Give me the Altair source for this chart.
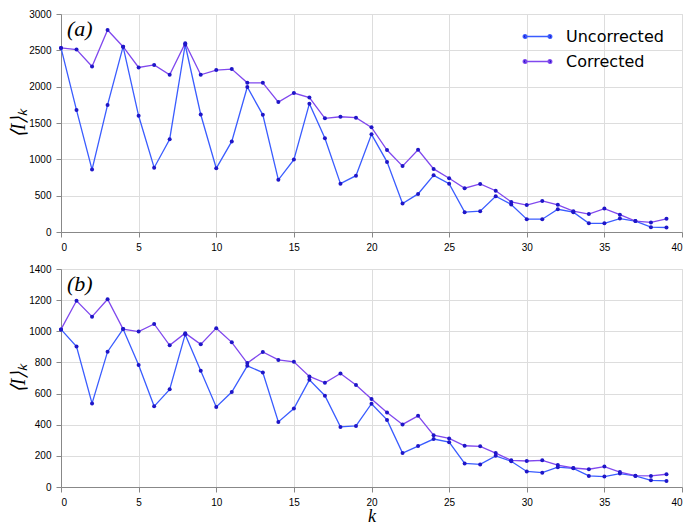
import altair as alt
import pandas as pd

k = list(range(40))
series_names = ["Uncorrected", "Corrected"]

a_uncorrected = [2533, 1678, 859, 1749, 2550, 1599, 885, 1277, 2577, 1617,
                 877, 1247, 1995, 1612, 718, 996, 1766, 1291, 665, 775,
                 1344, 965, 392, 524, 780, 665, 273, 286, 493, 379,
                 176, 176, 313, 273, 119, 119, 185, 150, 66, 62]
a_corrected = [2533, 2511, 2277, 2780, 2550, 2264, 2299, 2163, 2599, 2163,
               2229, 2242, 2053, 2053, 1788, 1912, 1850, 1564, 1586, 1573,
               1440, 1128, 907, 1132, 868, 740, 603, 661, 568, 414,
               370, 427, 374, 286, 247, 322, 238, 150, 132, 181]

b_uncorrected = [1012, 902, 537, 869, 1014, 784, 518, 627, 980, 747,
                 514, 610, 778, 735, 418, 504, 688, 586, 386, 392,
                 535, 431, 218, 263, 308, 288, 151, 145, 200, 165,
                 100, 92, 127, 120, 71, 67, 86, 71, 43, 39]
b_corrected = [1012, 1196, 1094, 1206, 1014, 998, 1047, 910, 988, 916,
               1020, 929, 796, 867, 816, 804, 710, 669, 729, 655,
               565, 478, 402, 457, 333, 312, 265, 261, 218, 171,
               167, 171, 141, 122, 114, 131, 96, 73, 71, 82]

x_ticks = [0, 5, 10, 15, 20, 25, 30, 35, 40]
a_y_ticks = [0, 500, 1000, 1500, 2000, 2500, 3000]
b_y_ticks = [0, 200, 400, 600, 800, 1000, 1200, 1400]

LINE_COLORS = ["#3a5cff", "#8048ee"]
MARKER_COLOR = "#1f16c8"
AXIS_COLOR = "#333333"

legend_path = ("M-1,0L1,0"
               "M-1.15,0a0.15,0.15 0 1,0 0.3,0a0.15,0.15 0 1,0 -0.3,0"
               "M0.85,0a0.15,0.15 0 1,0 0.3,0a0.15,0.15 0 1,0 -0.3,0")

W = 621
H = 218


def panel(unc, cor, y_ticks, label, show_xtitle):
    df = pd.DataFrame({
        "k": k + k,
        "value": unc + cor,
        "series": [series_names[0]] * len(k) + [series_names[1]] * len(k),
    })
    x = alt.X("k:Q", scale=alt.Scale(domain=[0, 40], nice=False),
              axis=alt.Axis(values=x_ticks, format="d", labelPadding=5,
                            title="k" if show_xtitle else None,
                            titleFont="Liberation Serif", titleFontStyle="italic",
                            titleFontWeight="normal", titleFontSize=18,
                            titlePadding=0))
    y = alt.Y("value:Q", scale=alt.Scale(domain=[y_ticks[0], y_ticks[-1]], nice=False),
              axis=alt.Axis(values=y_ticks, format="d", title="⟨I⟩ₖ",
                            labelPadding=5,
                            titleFont="Liberation Serif", titleFontStyle="italic",
                            titleFontWeight="normal", titleFontSize=20,
                            titlePadding=0))
    base = alt.Chart(df)
    line = base.mark_line(strokeWidth=1.3).encode(
        x=x, y=y,
        color=alt.Color("series:N",
                        scale=alt.Scale(domain=series_names, range=LINE_COLORS),
                        legend=alt.Legend(title=None, orient="none",
                                          legendX=463, legendY=9,
                                          symbolType=legend_path, symbolSize=620,
                                          symbolStrokeWidth=1.3,
                                          symbolFillColor=MARKER_COLOR,
                                          labelFont="DejaVu Sans", labelFontSize=16,
                                          labelOffset=15, rowPadding=3,
                                          labelColor="black")),
        detail="series:N",
    )
    pts = base.mark_circle(size=16, color=MARKER_COLOR, opacity=1).encode(
        x=x, y=y, detail="series:N")
    txt = alt.Chart(pd.DataFrame({"t": [label]})).mark_text(
        font="Liberation Serif", fontStyle="italic", fontSize=22, align="left",
        baseline="middle", color="black").encode(
        text="t:N", x=alt.value(6), y=alt.value(15))
    return alt.layer(line, pts, txt).properties(width=W, height=H)


top = panel(a_uncorrected, a_corrected, a_y_ticks, "(a)", False)
bottom = panel(b_uncorrected, b_corrected, b_y_ticks, "(b)", True)

chart = alt.vconcat(top, bottom, spacing=10).properties(
    padding={"left": 0, "top": 0, "right": 0, "bottom": 0}
).configure_view(
    stroke=AXIS_COLOR, strokeWidth=1
).configure_axis(
    grid=False, domainColor=AXIS_COLOR, tickColor=AXIS_COLOR,
    labelFont="DejaVu Sans", labelFontSize=13, labelColor="black",
    tickSize=alt.ExprRef("-3"), titleColor="black"
).configure(background="white")

chart.save("out.html", embed_options={"renderer": "svg", "actions": False})
